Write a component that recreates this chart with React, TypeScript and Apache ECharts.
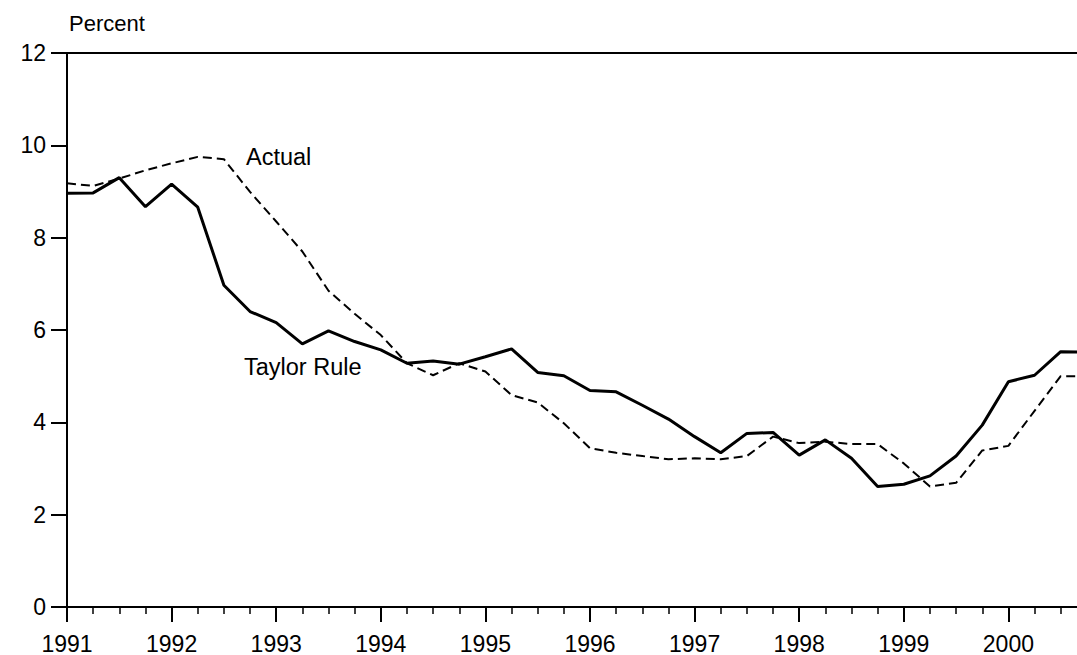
import React, { useEffect, useRef } from "react";
import * as echarts from "echarts";

const quarters = [
  1991.0, 1991.25, 1991.5, 1991.75,
  1992.0, 1992.25, 1992.5, 1992.75,
  1993.0, 1993.25, 1993.5, 1993.75,
  1994.0, 1994.25, 1994.5, 1994.75,
  1995.0, 1995.25, 1995.5, 1995.75,
  1996.0, 1996.25, 1996.5, 1996.75,
  1997.0, 1997.25, 1997.5, 1997.75,
  1998.0, 1998.25, 1998.5, 1998.75,
  1999.0, 1999.25, 1999.5, 1999.75,
  2000.0, 2000.25, 2000.5, 2000.75,
];

const taylorRule = [
  8.96, 8.97, 9.3, 8.67,
  9.16, 8.66, 6.97, 6.4,
  6.16, 5.7, 5.98, 5.75,
  5.57, 5.28, 5.33, 5.26,
  5.42, 5.59, 5.08, 5.01,
  4.69, 4.66, 4.37, 4.07,
  3.69, 3.34, 3.76, 3.78,
  3.29, 3.62, 3.22, 2.61,
  2.66, 2.84, 3.27, 3.94,
  4.88, 5.02, 5.53, 5.52,
];

const actual = [
  9.18, 9.12, 9.28, 9.46,
  9.61, 9.75, 9.7, 8.99,
  8.35, 7.7, 6.85, 6.35,
  5.89, 5.28, 5.02, 5.28,
  5.1, 4.59, 4.43, 3.98,
  3.44, 3.34, 3.27, 3.2,
  3.22, 3.2, 3.27, 3.69,
  3.55, 3.58, 3.53, 3.53,
  3.11, 2.61, 2.69, 3.39,
  3.49, 4.25, 5.0, 5.0,
];

const yTickLabels = ["0", "2", "4", "6", "8", "10", "12"];
const unitLabel = "Percent";
const seriesLabels = ["Taylor Rule", "Actual"];

const FONT = "'Liberation Sans', Arial, Helvetica, sans-serif";

export default function App() {
  const ref = useRef<HTMLDivElement>(null);
  useEffect(() => {
    if (!ref.current) return;
    const chart = echarts.init(ref.current, null, { renderer: "svg" });
    const pair = (vals: number[]) => quarters.map((q, i) => [q, vals[i]]);
    chart.setOption({
      animation: false,
      backgroundColor: "#fff",
      grid: {
        left: 67,
        top: 53,
        width: 1046,
        bottom: 48,
        show: true,
        borderColor: "#000",
        borderWidth: 2,
        outerBoundsMode: "none",
        containLabel: false,
      },
      xAxis: {
        type: "value",
        min: 1991,
        max: 2001,
        interval: 1,
        splitLine: { show: false },
        axisLine: { show: true, onZero: false, lineStyle: { color: "#000", width: 2 } },
        axisTick: { show: true, length: 15, lineStyle: { color: "#000", width: 2 } },
        minorTick: { show: true, splitNumber: 4, length: 7, lineStyle: { color: "#000", width: 1.5 } },
        axisLabel: {
          color: "#000",
          fontSize: 23,
          fontFamily: FONT,
          margin: 25,
          showMaxLabel: false,
          formatter: (v: number) => String(Math.round(v)),
        },
      },
      yAxis: {
        type: "value",
        min: 0,
        max: 12,
        interval: 2,
        splitLine: { show: false },
        axisLine: { show: true, lineStyle: { color: "#000", width: 2 } },
        axisTick: { show: true, length: 16, lineStyle: { color: "#000", width: 2 } },
        axisLabel: {
          color: "#000",
          fontSize: 23,
          fontFamily: FONT,
          margin: 21,
          formatter: (v: number) => yTickLabels[Math.round(v / 2)],
        },
      },
      graphic: [
        {
          type: "text",
          x: 69,
          y: 23,
          style: { text: unitLabel, fill: "#000", fontSize: 22, fontFamily: FONT, verticalAlign: "middle" },
        },
        {
          type: "text",
          x: 246,
          y: 157,
          style: { text: seriesLabels[1], fill: "#000", fontSize: 23.5, fontFamily: FONT, verticalAlign: "middle" },
        },
        {
          type: "text",
          x: 244,
          y: 367,
          style: { text: seriesLabels[0], fill: "#000", fontSize: 23.5, fontFamily: FONT, verticalAlign: "middle" },
        },
      ],
      series: [
        {
          name: seriesLabels[1],
          type: "line",
          data: pair(actual),
          showSymbol: false,
          symbol: "none",
          lineStyle: { color: "#000", width: 2, type: [9, 5] },
          z: 2,
        },
        {
          name: seriesLabels[0],
          type: "line",
          data: pair(taylorRule),
          showSymbol: false,
          symbol: "none",
          lineStyle: { color: "#000", width: 3 },
          z: 3,
        },
      ],
    });
    return () => chart.dispose();
  }, []);
  return (
    <div style={{ position: "fixed", left: 0, top: 0, width: 1077, height: 655, overflow: "hidden", background: "#fff" }}>
      <div ref={ref} style={{ width: 1130, height: 655 }} />
    </div>
  );
}
